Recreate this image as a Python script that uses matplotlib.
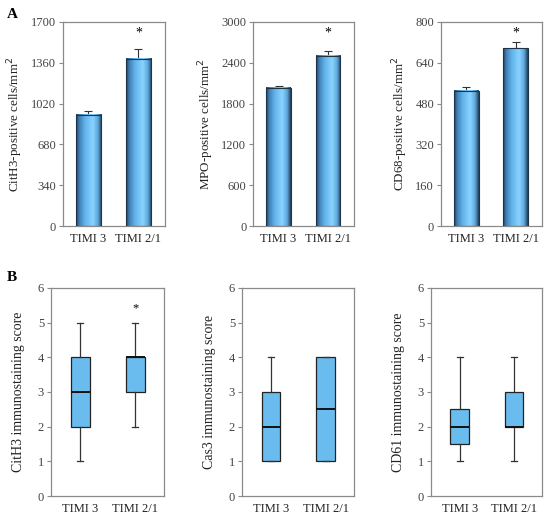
import numpy as np
import matplotlib
matplotlib.use("Agg")
import matplotlib.pyplot as plt
from matplotlib.colors import LinearSegmentedColormap
from matplotlib.transforms import blended_transform_factory

plt.rcParams['font.family'] = ['Liberation Serif', 'DejaVu Serif']

groups = ["TIMI 3", "TIMI 2/1"]

# panel A: mean and upper error
bar_labels = ["CitH3-positive cells/mm$^2$", "MPO-positive cells/mm$^2$", "CD68-positive cells/mm$^2$"]
bar_means = [[925, 1392], [2029, 2500], [531, 697]]
bar_errs = [[35, 83], [31, 78], [15, 26]]
bar_ymax = [1700, 3000, 800]
bar_ticks = [[0, 340, 680, 1020, 1360, 1700],
             [0, 600, 1200, 1800, 2400, 3000],
             [0, 160, 320, 480, 640, 800]]
bar_sig = [1, 1, 1]

# panel B: box stats (whislo, q1, med, q3, whishi)
box_labels = ["CitH3 immunostaining score", "Cas3 immunostaining score", "CD61 immunostaining score"]
box_stats = [
    [[1, 2, 3, 4, 5], [2, 3, 4, 4, 5]],
    [[1, 1, 2, 3, 4], [1, 1, 2.5, 4, 4]],
    [[1, 1.5, 2, 2.5, 4], [1, 2, 2, 3, 4]],
]
box_sig = [1, None, None]
box_sig_y = 5.42

spine_col = "#8a8a8a"
tick_col = "#444444"

cmap = LinearSegmentedColormap.from_list("cyl", [
    (0.0, "#23405a"), (0.12, "#3f7fb4"), (0.35, "#62b4ec"),
    (0.65, "#8ad3ff"), (0.85, "#5ea9de"), (1.0, "#23405a")])
grad = np.linspace(0, 1, 64).reshape(1, -1)

fig = plt.figure(figsize=(5.5, 5.22), dpi=100)

top_pos = [[0.1145, 0.567, 0.1855, 0.391],
           [0.4605, 0.567, 0.1836, 0.391],
           [0.8018, 0.567, 0.1836, 0.391]]
bot_pos = [[0.0927, 0.0498, 0.2055, 0.3985],
           [0.4400, 0.0498, 0.2036, 0.3985],
           [0.7836, 0.0498, 0.2018, 0.3985]]


def style(ax):
    for s in ax.spines.values():
        s.set_color(spine_col)
        s.set_linewidth(0.9)
    ax.tick_params(axis='y', direction='out', length=3, color=spine_col,
                   labelcolor=tick_col, labelsize=9, pad=2)
    ax.tick_params(axis='x', length=0, labelcolor="#222222", labelsize=9, pad=5)


for i in range(3):
    ax = fig.add_axes(top_pos[i])
    x = np.arange(len(groups))
    w = 0.5
    for xi, h in zip(x, bar_means[i]):
        ax.imshow(grad, cmap=cmap, aspect='auto', extent=[xi - w / 2, xi + w / 2, 0, h],
                  interpolation='bilinear', zorder=2)
    ax.bar(x, bar_means[i], width=w, fill=False, edgecolor="#1d3347", linewidth=0.8, zorder=3)
    ax.errorbar(x, bar_means[i], yerr=[[0, 0], bar_errs[i]], fmt='none',
                ecolor="#333333", elinewidth=0.8, capsize=3, capthick=0.8, zorder=1)
    trans = blended_transform_factory(ax.transData, ax.transAxes)
    if bar_sig[i] is not None:
        ax.text(bar_sig[i], 0.945, "*", transform=trans, ha='center', va='center', fontsize=10)
    ax.set_xlim(-0.51, 1.53)
    ax.set_ylim(0, bar_ymax[i])
    ax.set_yticks(bar_ticks[i])
    ax.set_xticks(x)
    ax.set_xticklabels(groups)
    ax.set_ylabel(bar_labels[i], fontsize=9.4, color="#222222", labelpad=4)
    style(ax)

for i in range(3):
    ax = fig.add_axes(bot_pos[i])
    stats = []
    for g, (lo, q1, med, q3, hi) in zip(groups, box_stats[i]):
        stats.append(dict(label=g, whislo=lo, q1=q1, med=med, q3=q3, whishi=hi, fliers=[]))
    ax.bxp(stats, positions=[0, 1], widths=0.34, patch_artist=True, showfliers=False,
           boxprops=dict(facecolor="#6bbcee", edgecolor="#222222", linewidth=0.9),
           medianprops=dict(color="#111111", linewidth=1.4),
           whiskerprops=dict(color="#333333", linewidth=0.9),
           capprops=dict(color="#333333", linewidth=0.9),
           capwidths=0.11)
    if box_sig[i] is not None:
        ax.text(box_sig[i], box_sig_y, "*", ha='center', va='center', fontsize=9)
    ax.set_xlim(-0.53, 1.52)
    ax.set_ylim(0, 6)
    ax.set_yticks(range(7))
    ax.set_ylabel(box_labels[i], fontsize=10, color="#222222", labelpad=9)
    style(ax)

fig.text(0.013, 0.973, "A", fontsize=11, fontweight='bold', va='center')
fig.text(0.013, 0.468, "B", fontsize=11, fontweight='bold', va='center')

fig.savefig("out.png", dpi=100)
